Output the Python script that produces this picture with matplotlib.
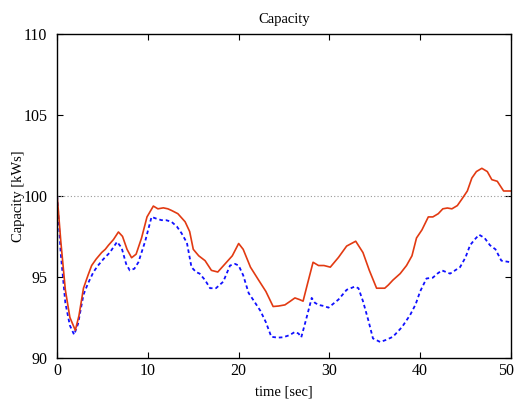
"""Capacity over time, two runs against a 100 kWs reference."""

import matplotlib
matplotlib.use("Agg")
import matplotlib.pyplot as plt
import matplotlib.transforms as mtransforms

# red (solid) run
red_t = [0.0, 0.4, 0.9, 1.4, 2.0, 2.4, 2.9, 3.4, 3.8, 4.3, 4.9, 5.3, 5.65, 6.2, 6.75,
         7.2, 7.7, 8.2, 8.7, 9.3, 9.9, 10.6, 11.1, 11.7, 12.2, 12.6, 13.3, 14.1, 14.6,
         15.0, 15.6, 16.3, 17.0, 17.7, 18.5, 19.3, 20.0, 20.5, 21.3, 22.2, 23.0, 23.8,
         24.4, 25.1, 25.7, 26.2, 26.7, 27.1, 27.6, 28.2, 28.8, 29.4, 30.1, 31.0, 31.9,
         32.9, 33.7, 34.4, 35.2, 36.1, 36.5, 37.0, 37.8, 38.5, 39.1, 39.6, 40.2, 40.9,
         41.4, 42.0, 42.5, 43.0, 43.5, 44.1, 44.6, 45.2, 45.7, 46.2, 46.8, 47.4, 47.9,
         48.5, 49.2, 50.0]
red_v = [100.0, 97.2, 94.2, 92.5, 91.7, 92.6, 94.3, 95.1, 95.7, 96.1, 96.5, 96.7, 96.95,
         97.3, 97.77, 97.5, 96.7, 96.18, 96.4, 97.4, 98.7, 99.37, 99.2, 99.26, 99.2,
         99.1, 98.9, 98.4, 97.8, 96.7, 96.3, 96.0, 95.4, 95.3, 95.8, 96.3, 97.06, 96.7,
         95.6, 94.8, 94.1, 93.17, 93.2, 93.27, 93.5, 93.7, 93.6, 93.5, 94.6, 95.9, 95.7,
         95.7, 95.6, 96.2, 96.9, 97.2, 96.5, 95.4, 94.3, 94.3, 94.5, 94.8, 95.2, 95.7,
         96.3, 97.4, 97.9, 98.7, 98.7, 98.9, 99.2, 99.25, 99.2, 99.4, 99.8, 100.3, 101.1,
         101.5, 101.7, 101.5, 101.0, 100.9, 100.3, 100.3]

# blue (dashed) run
blue_t = [0.0, 0.4, 0.9, 1.4, 1.87, 2.3, 2.9, 3.4, 4.0, 4.5, 5.1, 5.8, 6.6, 7.1, 7.6,
          8.0, 8.5, 8.95, 9.7, 10.4, 10.9, 11.5, 12.0, 12.6, 13.2, 13.7, 14.3, 14.8,
          15.3, 15.7, 16.3, 16.85, 17.5, 18.3, 19.05, 19.6, 20.0, 20.5, 21.1, 21.7,
          22.4, 23.0, 23.6, 24.3, 24.9, 25.6, 26.2, 26.6, 26.9, 27.4, 28.05, 28.4, 28.8,
          29.4, 29.9, 31.0, 31.9, 32.8, 33.2, 33.7, 34.3, 34.8, 35.6, 36.2, 37.0, 38.0,
          38.9, 39.5, 40.0, 40.7, 41.4, 41.9, 42.4, 43.3, 44.4, 45.0, 45.5, 46.0, 46.5,
          47.1, 47.7, 48.3, 48.95, 50.0]
blue_v = [100.0, 96.4, 93.4, 92.0, 91.43, 92.1, 93.9, 94.6, 95.3, 95.7, 96.1, 96.5,
          97.16, 96.8, 95.8, 95.4, 95.5, 95.9, 97.2, 98.7, 98.6, 98.5, 98.5, 98.4, 98.1,
          97.7, 97.1, 95.6, 95.3, 95.2, 94.8, 94.3, 94.3, 94.7, 95.7, 95.8, 95.7, 95.1,
          94.0, 93.5, 92.9, 92.2, 91.3, 91.25, 91.27, 91.4, 91.6, 91.5, 91.27, 92.3, 93.7,
          93.4, 93.27, 93.2, 93.1, 93.6, 94.2, 94.4, 94.3, 93.5, 92.3, 91.2, 90.98, 91.1,
          91.3, 91.9, 92.65, 93.3, 94.1, 94.9, 94.95, 95.2, 95.4, 95.2, 95.6, 96.2, 96.95,
          97.3, 97.6, 97.4, 96.95, 96.7, 96.0, 95.9]

reference_level = 100.0

plt.rcParams["font.family"] = ["Liberation Serif", "DejaVu Serif"]
plt.rcParams["font.size"] = 10.5

fig = plt.figure(figsize=(5.15, 4.03), dpi=100)
ax = fig.add_axes([0.111, 0.112, 0.881, 0.804])

ax.axhline(reference_level, color="#999999", linestyle=(0, (1, 2)), linewidth=0.8)
ax.plot(blue_t, blue_v, color="#1010ff", linestyle=(0, (2, 1.6)), linewidth=1.3)
ax.plot(red_t, red_v, color="#e23a12", linewidth=1.2)

ax.set_xlim(0, 50)
ax.set_ylim(90, 110)
ax.set_xticks(range(0, 51, 10))
ax.set_yticks(range(90, 111, 5))
ax.tick_params(direction="in", top=True, right=True, length=4, width=0.8,
               labelsize=11.5)
ax.tick_params(axis="y", pad=7)
for spine in ax.spines.values():
    spine.set_linewidth(1.0)

# last x label sits pulled in against the figure edge, like the original
fig.canvas.draw()
last = ax.get_xticklabels()[-1]
last.set_horizontalalignment("right")
last.set_transform(last.get_transform()
                   + mtransforms.ScaledTranslation(3 / 100, 0, fig.dpi_scale_trans))

ax.set_title("Capacity", fontsize=10.5, pad=8)
ax.set_xlabel("time [sec]", fontsize=10.5, labelpad=5)
ax.set_ylabel("Capacity [kWs]", fontsize=10.5, labelpad=-1)

fig.savefig("out.png", dpi=100)
